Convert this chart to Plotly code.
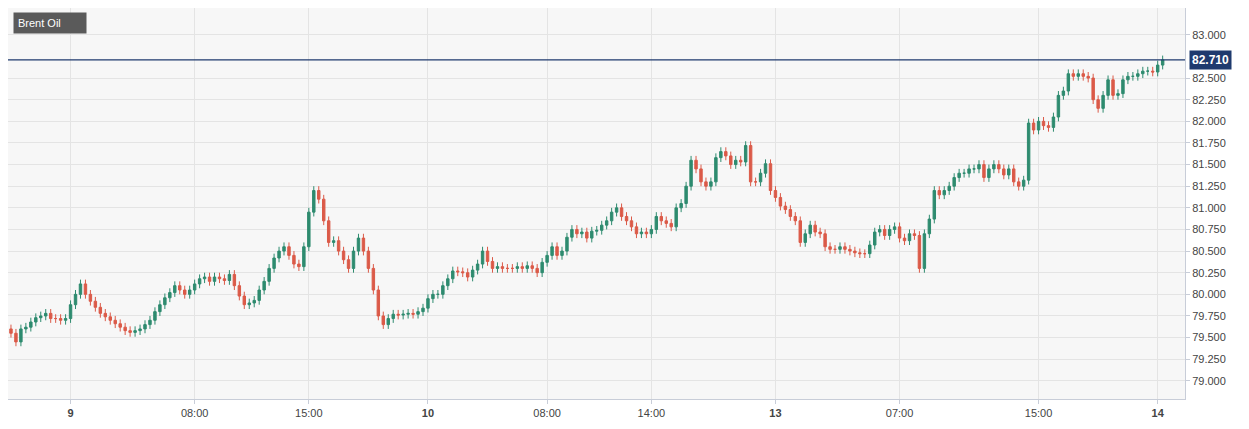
import plotly.graph_objects as go

closes = [79.55,79.45,79.6,79.62,79.68,79.73,79.75,79.78,79.72,79.72,79.7,79.72,79.88,80.0,80.12,80.0,79.92,79.85,79.78,79.74,
79.7,79.66,79.62,79.58,79.56,79.58,79.6,79.65,79.7,79.8,79.88,79.96,80.02,80.1,80.05,80.0,80.05,80.12,80.18,80.2,
80.15,80.2,80.18,80.16,80.23,80.1,79.98,79.88,79.9,79.93,80.05,80.15,80.3,80.42,80.5,80.55,80.45,80.35,80.32,80.55,
80.95,81.2,81.1,80.85,80.6,80.62,80.5,80.4,80.3,80.5,80.65,80.5,80.3,80.05,79.75,79.65,79.72,79.77,79.76,79.77,
79.78,79.77,79.8,79.84,79.95,80.0,80.0,80.1,80.18,80.27,80.26,80.25,80.2,80.28,80.35,80.5,80.38,80.3,80.32,80.3,
80.3,80.3,80.32,80.3,80.33,80.3,80.25,80.37,80.45,80.55,80.45,80.5,80.66,80.75,80.7,80.72,80.65,80.73,80.74,80.8,
80.85,80.95,81.0,80.9,80.85,80.78,80.7,80.72,80.7,80.75,80.9,80.85,80.82,80.78,81.0,81.05,81.25,81.55,81.45,81.3,
81.25,81.3,81.58,81.65,81.6,81.5,81.55,81.53,81.72,81.3,81.3,81.4,81.51,81.2,81.12,81.02,80.98,80.9,80.85,80.6,
80.7,80.8,80.72,80.7,80.55,80.52,80.52,80.55,80.52,80.5,80.48,80.47,80.47,80.57,80.72,80.75,80.68,80.75,80.78,80.65,
80.62,80.7,80.68,80.3,80.7,80.87,81.2,81.15,81.2,81.25,81.35,81.4,81.4,81.45,81.45,81.5,81.35,81.45,81.5,81.45,
81.38,81.45,81.3,81.25,81.32,81.98,81.9,82.0,81.95,81.93,82.05,82.3,82.35,82.55,82.52,82.55,82.52,82.5,82.25,82.15,
82.3,82.48,82.3,82.32,82.48,82.52,82.52,82.55,82.58,82.58,82.57,82.65,82.71]
first_open = 79.6
tick_idx = [12, 37, 60, 84, 108, 129, 154, 179, 207, 231]
tick_text = ["<b>9</b>", "08:00", "15:00", "<b>10</b>", "08:00", "14:00", "<b>13</b>", "07:00", "15:00", "<b>14</b>"]
y_ticks = [79.0, 79.25, 79.5, 79.75, 80.0, 80.25, 80.5, 80.75, 81.0, 81.25, 81.5, 81.75, 82.0, 82.25, 82.5, 83.0]
last_price = 82.71

opens = [first_open] + closes[:-1]
highs = [max(o, c) + 0.05 for o, c in zip(opens, closes)]
lows = [min(o, c) - 0.05 for o, c in zip(opens, closes)]
x = list(range(len(closes)))

fig = go.Figure(go.Candlestick(
    x=x, open=opens, high=highs, low=lows, close=closes,
    increasing=dict(line=dict(color="#2e8b6f", width=1), fillcolor="#2e8b6f"),
    decreasing=dict(line=dict(color="#db5a48", width=1), fillcolor="#db5a48"),
    whiskerwidth=0, showlegend=False, hoverinfo="skip"))

fig.add_hline(y=last_price, line=dict(color="#1f3a6e", width=1.2))
fig.add_annotation(x=1, xref="paper", y=last_price, yref="y", xanchor="left", xshift=4,
                   text="<b>82.710</b>", showarrow=False, bgcolor="#1f3a6e",
                   font=dict(color="white", size=12, family="Arial"), borderpad=2)
fig.add_annotation(x=0.004, xref="paper", y=0.99, yref="paper", xanchor="left", yanchor="top",
                   text="Brent Oil", showarrow=False, bgcolor="#5a5a5a",
                   font=dict(color="white", size=11, family="Arial"), borderpad=4, width=64, align="left")

fig.update_layout(
    width=1241, height=421, margin=dict(l=0, r=64, t=0, b=30),
    paper_bgcolor="white", plot_bgcolor="#f7f7f7",
    font=dict(family="Arial", size=11, color="#444"),
    xaxis=dict(range=[-0.6, 236.5], tickvals=tick_idx, ticktext=tick_text, showgrid=True,
               gridcolor="#e4e4e4", rangeslider=dict(visible=False), ticks="outside",
               ticklen=4, tickcolor="#c8cdd8", showline=True, linecolor="#c8cdd8", zeroline=False),
    yaxis=dict(side="right", range=[78.79, 83.31], tickvals=y_ticks,
               ticktext=[f"{v:.3f}" for v in y_ticks],
               gridcolor="#e4e4e4", showline=True, linecolor="#c8cdd8", ticks="outside",
               ticklen=4, tickcolor="#c8cdd8", zeroline=False),
)
fig.write_html("out.html")
